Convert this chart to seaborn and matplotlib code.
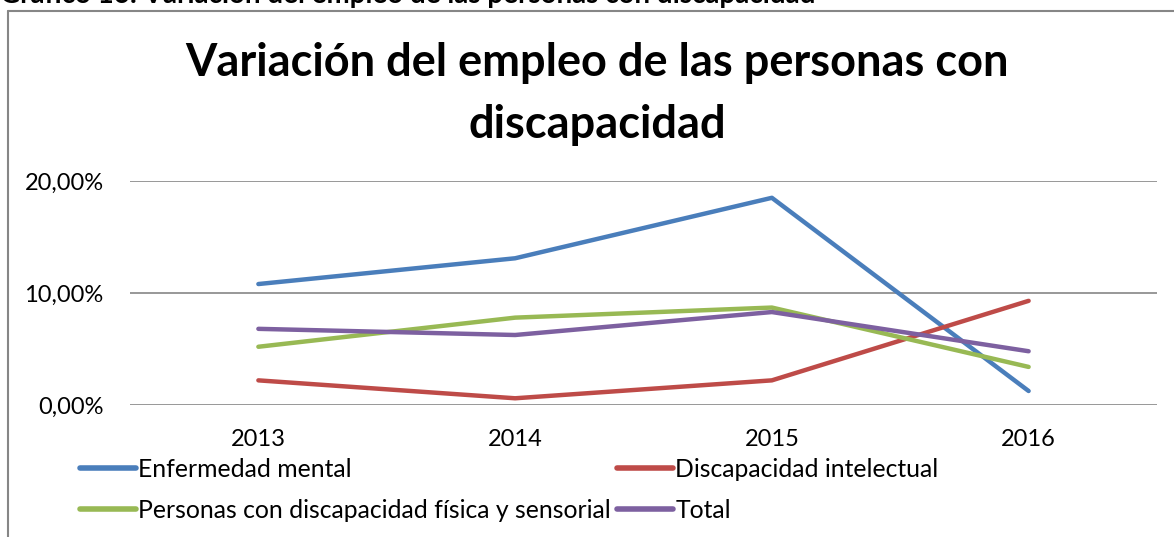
import seaborn as sns
import matplotlib.pyplot as plt
import matplotlib.lines as mlines
import pandas as pd

# DATA
years = ['2013', '2014', '2015', '2016']
enfermedad_mental = [0.108, 0.131, 0.185, 0.0125]
discapacidad_intelectual = [0.022, 0.006, 0.022, 0.093]
fisica_sensorial = [0.052, 0.078, 0.087, 0.034]
total = [0.068, 0.0625, 0.083, 0.048]

series_names = ['Enfermedad mental', 'Discapacidad intelectual',
                'Personas con discapacidad física y sensorial', 'Total']
colors = ['#4A7EBB', '#BE4B48', '#98B954', '#7D60A0']

data = pd.DataFrame({
    'Año': years * 4,
    'Variación': enfermedad_mental + discapacidad_intelectual + fisica_sensorial + total,
    'Serie': [s for s in series_names for _ in years],
})

# VISUALIZATION
sns.set_theme(style='white')
plt.rcParams['font.family'] = ['Lato', 'DejaVu Sans']
plt.rcParams['text.color'] = 'black'

fig = plt.figure(figsize=(11.74, 5.37), dpi=100)
ax = fig.add_axes([130 / 1174, 132 / 537, 1027 / 1174, 224 / 537])

sns.lineplot(data=data, x='Año', y='Variación', hue='Serie', palette=colors,
             hue_order=series_names, sort=False, linewidth=3.2, ax=ax, legend=False)

ax.set_xlim(-0.5, 3.5)
ax.set_ylim(0, 0.2)
ax.set_yticks([0, 0.1, 0.2])
ax.set_yticklabels(['0,00%', '10,00%', '20,00%'])
ax.grid(axis='y', color='#868686', linewidth=1.2)
ax.set_axisbelow(True)
for s in ax.spines.values():
    s.set_visible(False)
ax.tick_params(axis='both', length=0, labelsize=17, colors='black')
ax.tick_params(axis='y', pad=19)
ax.tick_params(axis='x', pad=17)
ax.set_xlabel('')
ax.set_ylabel('')

# Title
fig.text(597 / 1174, 1 - 94 / 537, 'Variación del empleo de las personas con\ndiscapacidad',
         ha='center', va='center', fontsize=32.5, fontweight='bold', linespacing=1.6)

# Cut-off caption above the chart frame
fig.text(0.0, 1 - 3 / 537, 'Gráfico 16: Variación del empleo de las personas con discapacidad',
         ha='left', va='baseline', fontsize=20, fontweight='bold')

# Chart frame (top and left edges)
fig.add_artist(mlines.Line2D([8 / 1174, 1], [1 - 11 / 537, 1 - 11 / 537],
                             color='#868686', linewidth=1.5, transform=fig.transFigure))
fig.add_artist(mlines.Line2D([8 / 1174, 8 / 1174], [0, 1 - 11 / 537],
                             color='#868686', linewidth=1.5, transform=fig.transFigure))

# Legend
handles = [mlines.Line2D([], [], color=c, linewidth=4) for c in colors]
order = [0, 2, 1, 3]
fig.legend([handles[i] for i in order], [series_names[i] for i in order],
           ncol=2, loc='upper left', bbox_to_anchor=(80 / 1174, 1 - 458 / 537),
           frameon=False, fontsize=17.8, handlelength=2.25, handletextpad=0.1,
           columnspacing=0.25, labelspacing=0.72, borderpad=0, borderaxespad=0)

plt.savefig('out.png', dpi=100)
